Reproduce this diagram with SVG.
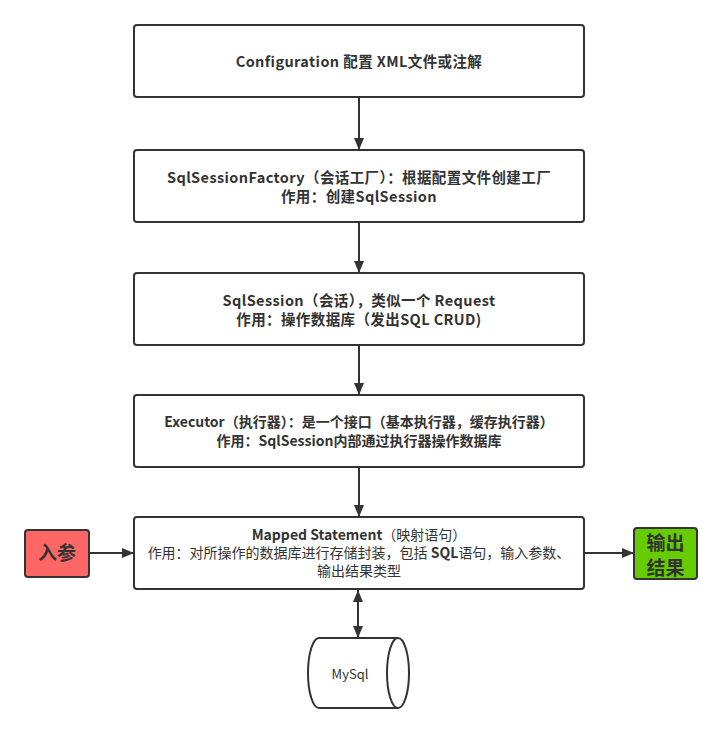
<svg xmlns="http://www.w3.org/2000/svg" width="722" height="733" viewBox="0 0 722 733">
<style>
text{font-family:"Noto Sans CJK SC","Noto Sans",sans-serif;fill:#333;font-size:14px;text-anchor:middle}
.b{font-weight:bold}
.t{font-weight:bold;font-size:14.5px;letter-spacing:0.4px}
.n{font-weight:normal}
.box{fill:#fff;stroke:#333;stroke-width:2}
.ln{stroke:#333;stroke-width:2;fill:none}
.big{font-size:19px;font-weight:bold}
</style>
<defs>
<marker id="ah" viewBox="0 0 12 10" refX="12" refY="5" markerWidth="12" markerHeight="10" markerUnits="userSpaceOnUse" orient="auto">
<path d="M0,0 L12,5 L0,10 Z" fill="#333"/>
</marker>
<marker id="as" viewBox="0 0 12 10" refX="0" refY="5" markerWidth="12" markerHeight="10" markerUnits="userSpaceOnUse" orient="auto">
<path d="M12,0 L0,5 L12,10 Z" fill="#333"/>
</marker>
</defs>
<rect width="722" height="733" fill="#fff"/>
<g id="connectors">
<line class="ln" x1="359" y1="98" x2="359" y2="150" marker-end="url(#ah)"/>
<line class="ln" x1="359" y1="223" x2="359" y2="273" marker-end="url(#ah)"/>
<line class="ln" x1="359" y1="346" x2="359" y2="395" marker-end="url(#ah)"/>
<line class="ln" x1="359" y1="468" x2="359" y2="517" marker-end="url(#ah)"/>
<line class="ln" x1="90" y1="553" x2="134" y2="553" marker-end="url(#ah)"/>
<line class="ln" x1="585" y1="553" x2="634" y2="553" marker-end="url(#ah)"/>
<line class="ln" x1="358" y1="590" x2="358" y2="638" marker-start="url(#as)" marker-end="url(#ah)"/>
</g>
<g id="config">
<rect class="box" x="134" y="25" width="450" height="72" rx="3"/>
<text x="359" y="67" class="t">Configuration 配置 XML文件或注解</text>
</g>
<g id="factory">
<rect class="box" x="134" y="150" width="450" height="72" rx="3"/>
<text x="359" y="183" class="t">SqlSessionFactory（会话工厂）：根据配置文件创建工厂</text>
<text x="359" y="202" class="t">作用：创建SqlSession</text>
</g>
<g id="session">
<rect class="box" x="134" y="273" width="450" height="72" rx="3"/>
<text x="359" y="306" class="t">SqlSession（会话），类似一个 Request</text>
<text x="359" y="325" class="t">作用：操作数据库（发出SQL CRUD)</text>
</g>
<g id="executor">
<rect class="box" x="134" y="395" width="450" height="72" rx="3"/>
<text x="359" y="427" class="b">Executor（执行器）：是一个接口（基本执行器，缓存执行器）</text>
<text x="359" y="446" class="b">作用：SqlSession内部通过执行器操作数据库</text>
</g>
<g id="mapped">
<rect class="box" x="134" y="517" width="450" height="72" rx="3"/>
<text x="359" y="540"><tspan class="b">Mapped Statement</tspan>（映射语句）</text>
<text x="359" y="558">作用：对所操作的数据库进行存储封装，包括 <tspan class="b">SQL</tspan>语句，输入参数、</text>
<text x="359" y="576">输出结果类型</text>
</g>
<g id="input">
<rect x="25" y="530" width="64" height="47" rx="3" fill="#FF6666" stroke="#333" stroke-width="2"/>
<text x="57" y="560" class="big">入参</text>
</g>
<g id="output">
<rect x="634" y="528" width="63" height="51" rx="3" fill="#66CC00" stroke="#333" stroke-width="2"/>
<text x="665.5" y="550" class="big">输出</text>
<text x="665.5" y="575" class="big">结果</text>
</g>
<g id="mysql">
<path d="M319,638 L398,638 A11,35 0 0 1 398,708 L319,708 A11,35 0 0 1 319,638 Z" fill="#fff" stroke="#333" stroke-width="2"/>
<path d="M398,638 A11,35 0 0 0 398,708" fill="none" stroke="#333" stroke-width="2"/>
<text x="350" y="679" class="n" style="font-size:13px">MySql</text>
</g>
</svg>
